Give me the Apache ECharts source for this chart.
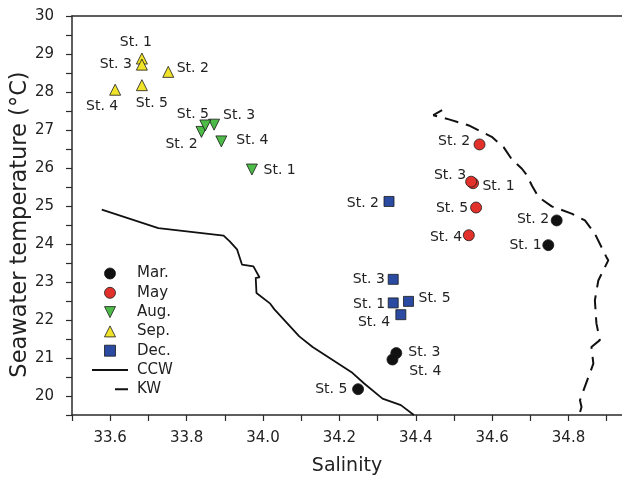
<!DOCTYPE html>
<html>
<head>
<meta charset="utf-8">
<script src="https://cdn.jsdelivr.net/npm/echarts@6/dist/echarts.min.js"></script>
<style>html,body{margin:0;padding:0;background:#fff}#c{width:622px;height:477px}</style>
</head>
<body>
<div id="c"></div>
<script>
// ---- data ----
var stations = ['St. 1', 'St. 2', 'St. 3', 'St. 4', 'St. 5'];
var marSal = [34.747, 34.769, 34.349, 34.339, 34.249];
var marTemp = [23.97, 24.62, 21.13, 20.96, 20.18];
var maySal = [34.550, 34.567, 34.545, 34.539, 34.558];
var mayTemp = [25.60, 26.62, 25.64, 24.23, 24.96];
var augSal = [33.971, 33.839, 33.872, 33.891, 33.849];
var augTemp = [25.96, 26.95, 27.14, 26.70, 27.12];
var sepSal = [33.683, 33.752, 33.683, 33.613, 33.683];
var sepTemp = [28.88, 28.53, 28.72, 28.06, 28.18];
var decSal = [34.341, 34.330, 34.341, 34.361, 34.381];
var decTemp = [22.45, 25.12, 23.07, 22.14, 22.49];
var ccwSal = [33.578, 33.726, 33.897, 33.913, 33.932, 33.945, 33.975, 33.991, 33.981, 33.983, 34.019, 34.030, 34.095, 34.130, 34.234, 34.265, 34.313, 34.361, 34.395];
var ccwTemp = [24.905, 24.42, 24.22, 24.07, 23.86, 23.46, 23.41, 23.12, 23.11, 22.71, 22.43, 22.28, 21.57, 21.29, 20.61, 20.33, 19.93, 19.76, 19.5];
var kwSal = [34.469, 34.446, 34.487, 34.539, 34.599, 34.630, 34.652, 34.678, 34.691, 34.704, 34.721, 34.756, 34.808, 34.843, 34.869, 34.899, 34.904, 34.878, 34.869, 34.873, 34.882, 34.860, 34.865, 34.852, 34.830, 34.834, 34.828];
var kwTemp = [27.52, 27.39, 27.28, 27.12, 26.82, 26.55, 26.22, 25.98, 25.81, 25.54, 25.24, 24.99, 24.80, 24.62, 24.27, 23.66, 23.57, 23.04, 22.52, 21.91, 21.47, 21.29, 20.85, 20.50, 19.89, 19.71, 19.5];
var seriesNames = ['Mar.', 'May', 'Aug.', 'Sep.', 'Dec.', 'CCW', 'KW'];

// ---- label placement (style, per station: [align, dx, dy]) ----
var marLab = [['right', -6.7, 0], ['right', -7.6, -1], ['left', 12, -1], ['left', 16.7, 11.4], ['right', -10.7, 0.3]];
var mayLab = [['left', 9.4, 3.3], ['right', -9.3, -2.6], ['right', -5, -6.7], ['right', -6.7, 2.3], ['right', -8, 1]];
var augLab = [['left', 11.7, 0.7], ['center', -20, 12.3], ['left', 9, -9.3], ['left', 15, -1], ['center', -12.4, -10.7]];
var sepLab = [['center', -6, -16.6], ['left', 8.4, -3.4], ['right', -10, 0], ['center', -13, 16.7], ['center', 10, 17.7]];
var decLab = [['right', -8, 1.6], ['right', -10, 1.7], ['right', -8.3, 0], ['right', -10.7, 7.4], ['left', 10, -3.3]];

var FONT = 'DejaVu Sans';
var TRI_UP = 'path://M5,0 L10,10 L0,10 Z';
var TRI_DOWN = 'path://M0,0 L10,0 L5,10 Z';
var SQUARE = 'path://M0,0 H10 V10 H0 Z';

function pts(sal, temp, lab) {
  return sal.map(function (s, i) {
    return {
      value: [s, temp[i]],
      name: stations[i],
      label: { position: 'inside', align: lab[i][0], verticalAlign: 'middle', offset: [lab[i][1], lab[i][2]] }
    };
  });
}
function line(sal, temp) { return sal.map(function (s, i) { return [s, temp[i]]; }); }

function scatter(name, sal, temp, lab, color, symbol, size) {
  return {
    name: name, type: 'scatter', data: pts(sal, temp, lab), symbol: symbol, symbolSize: size,
    itemStyle: { color: color, borderColor: '#1a1a1a', borderWidth: 0.8, opacity: 1 },
    label: { show: true, formatter: '{b}', fontFamily: FONT, fontSize: 14, color: '#222' },
    emphasis: { disabled: true }, z: 3
  };
}

var chart = echarts.init(document.getElementById('c'), null, { renderer: 'canvas' });
var axisLine = { show: true, lineStyle: { color: '#2a2a2a', width: 1.5 } };
chart.setOption({
  animation: false,
  backgroundColor: '#fff',
  grid: { left: 72, right: 0, top: 16, bottom: 62, containLabel: false, outerBoundsMode: 'none' },
  xAxis: [{
    type: 'value', min: 33.5, max: 34.94, interval: 0.1,
    name: 'Salinity', nameLocation: 'middle', nameGap: 42, nameMoveOverlap: false,
    nameTextStyle: { fontFamily: FONT, fontSize: 19, color: '#222' },
    axisLine: axisLine,
    axisTick: { show: true, length: 6, lineStyle: { color: '#2a2a2a', width: 1.2 } },
    axisLabel: {
      margin: 16, fontFamily: FONT, fontSize: 15, color: '#222', showMaxLabel: false,
      formatter: function (v) { var k = Math.round(v * 10); return (k % 2 === 0 && Math.abs(v * 10 - k) < 1e-6) ? (k / 10).toFixed(1) : ''; }
    },
    splitLine: { show: false }
  }, {
    type: 'value', position: 'top', min: 33.5, max: 34.94,
    axisLine: axisLine, axisTick: { show: false }, axisLabel: { show: false }, splitLine: { show: false }
  }],
  yAxis: {
    type: 'value', min: 19.5, max: 30, interval: 0.5,
    name: 'Seawater temperature (°C)', nameLocation: 'middle', nameGap: 40, nameMoveOverlap: false,
    nameTextStyle: { fontFamily: FONT, fontSize: 22.5, color: '#222', padding: [0, 18, 0, 0] },
    axisLine: axisLine,
    axisTick: { show: true, length: 6, lineStyle: { color: '#2a2a2a', width: 1.2 } },
    axisLabel: {
      margin: 18, fontFamily: FONT, fontSize: 15, color: '#222',
      formatter: function (v) { return Math.abs(v - Math.round(v)) < 1e-6 ? String(Math.round(v)) : ''; }
    },
    splitLine: { show: false }
  },
  legend: {
    orient: 'vertical', left: 87, top: 261, itemWidth: 36, itemHeight: 11, itemGap: 4.3,
    selectedMode: false,
    textStyle: { fontFamily: FONT, fontSize: 15, color: '#222', lineHeight: 15, padding: [0, 0, 0, 4] },
    data: [
      { name: seriesNames[0], icon: 'circle', itemStyle: { borderWidth: 0.8, borderColor: '#1a1a1a' } },
      { name: seriesNames[1], icon: 'circle', itemStyle: { borderWidth: 0.8, borderColor: '#1a1a1a' } },
      { name: seriesNames[2], icon: TRI_DOWN, itemStyle: { borderWidth: 0.8, borderColor: '#1a1a1a' } },
      { name: seriesNames[3], icon: TRI_UP, itemStyle: { borderWidth: 0.8, borderColor: '#1a1a1a' } },
      { name: seriesNames[4], icon: SQUARE, itemStyle: { borderWidth: 0.8, borderColor: '#1a1a1a' } },
      { name: seriesNames[5], icon: 'path://M0,0 H36 V2 H0 Z', itemStyle: { borderWidth: 0, color: '#111' } },
      { name: seriesNames[6], icon: 'path://M0,0 L0,0.001 M23,0 H36 V2 H23 Z', itemStyle: { borderWidth: 0, color: '#111' } }
    ]
  },
  series: [
    {
      name: seriesNames[5], type: 'line', data: line(ccwSal, ccwTemp), symbol: 'none', showSymbol: false,
      color: '#111', lineStyle: { color: '#111', width: 1.8 }, z: 2, silent: true
    },
    {
      name: seriesNames[6], type: 'line', data: line(kwSal, kwTemp), symbol: 'none', showSymbol: false,
      color: '#111', lineStyle: { color: '#111', width: 2, type: [14, 8] }, z: 2, silent: true
    },
    scatter(seriesNames[0], marSal, marTemp, marLab, '#111111', 'circle', 11),
    scatter(seriesNames[1], maySal, mayTemp, mayLab, '#e2312a', 'circle', 11),
    scatter(seriesNames[2], augSal, augTemp, augLab, '#4cbb47', TRI_DOWN, 11),
    scatter(seriesNames[3], sepSal, sepTemp, sepLab, '#f0e32a', TRI_UP, 11),
    scatter(seriesNames[4], decSal, decTemp, decLab, '#2b4ba3', SQUARE, 10)
  ]
});
</script>
</body>
</html>
